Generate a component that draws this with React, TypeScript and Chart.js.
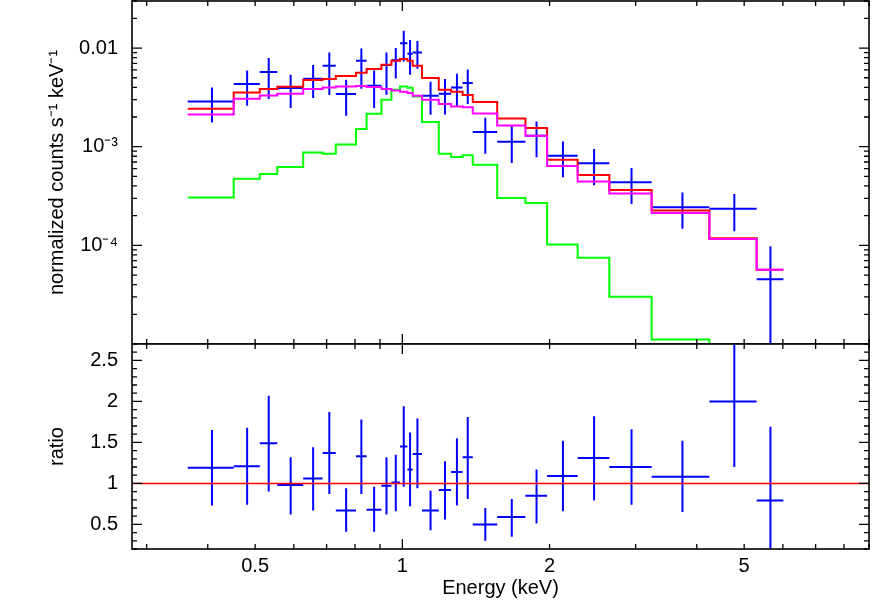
import React, { useEffect, useRef } from 'react';
import { Chart, registerables } from 'chart.js';

Chart.register(...registerables);

const FONT = "'Liberation Sans', Arial, Helvetica, sans-serif";

// Energy bin edges (keV)
const binEdges = [0.364, 0.452, 0.511, 0.555, 0.627, 0.687, 0.731, 0.804, 0.845, 0.906, 0.950, 0.989, 1.024, 1.050, 1.097, 1.187, 1.258, 1.328, 1.393, 1.563, 1.785, 1.977, 2.283, 2.650, 3.234, 4.244, 5.303, 6.013];

// Data (normalized counts s^-1 keV^-1)
const dataRate = [2.88e-3, 4.32e-3, 5.71e-3, 3.94e-3, 4.89e-3, 6.62e-3, 3.42e-3, 7.43e-3, 4.15e-3, 6.73e-3, 7.52e-3, 1.12e-2, 8.75e-3, 9.02e-3, 3.29e-3, 3.44e-3, 3.99e-3, 4.42e-3, 1.41e-3, 1.12e-3, 1.29e-3, 8.11e-4, 6.78e-4, 4.35e-4, 2.43e-4, 2.35e-4, 4.53e-5];
const dataRateHigh = [3.99e-3, 5.93e-3, 7.92e-3, 5.36e-3, 6.73e-3, 9.02e-3, 4.77e-3, 9.91e-3, 5.93e-3, 9.02e-3, 1.0e-2, 1.50e-2, 1.21e-2, 1.18e-2, 4.56e-3, 4.85e-3, 5.50e-3, 6.07e-3, 1.97e-3, 1.61e-3, 1.80e-3, 1.13e-3, 9.48e-4, 6.08e-4, 3.44e-4, 3.32e-4, 9.77e-5];
const dataRateLow = [1.76e-3, 2.60e-3, 3.04e-3, 2.47e-3, 3.11e-3, 3.34e-3, 2.06e-3, 3.87e-3, 2.47e-3, 3.37e-3, 4.92e-3, 7.31e-3, 5.36e-3, 6.17e-3, 2.11e-3, 2.12e-3, 2.56e-3, 2.71e-3, 8.49e-4, 6.84e-4, 7.83e-4, 4.89e-4, 4.06e-4, 2.62e-4, 1.47e-4, 1.39e-4, 0];

// Models
const modelTotal = [2.43e-3, 3.55e-3, 3.84e-3, 4.06e-3, 4.74e-3, 4.85e-3, 5.20e-3, 5.62e-3, 6.12e-3, 6.77e-3, 7.43e-3, 7.74e-3, 7.43e-3, 6.62e-3, 4.97e-3, 3.78e-3, 3.61e-3, 3.34e-3, 2.84e-3, 1.93e-3, 1.55e-3, 7.38e-4, 5.18e-4, 3.65e-4, 2.25e-4, 1.18e-4, 5.67e-5];
const modelComp1 = [2.12e-3, 3.06e-3, 3.31e-3, 3.44e-3, 3.84e-3, 3.99e-3, 4.08e-3, 4.12e-3, 4.03e-3, 3.84e-3, 3.72e-3, 3.61e-3, 3.50e-3, 3.29e-3, 2.99e-3, 2.71e-3, 2.56e-3, 2.51e-3, 2.17e-3, 1.64e-3, 1.29e-3, 6.39e-4, 4.45e-4, 3.36e-4, 2.13e-4, 1.16e-4, 5.67e-5];
const modelComp2 = [3.06e-4, 4.74e-4, 5.29e-4, 6.23e-4, 8.75e-4, 8.49e-4, 1.05e-3, 1.51e-3, 2.16e-3, 2.99e-3, 3.78e-3, 4.08e-3, 3.96e-3, 3.23e-3, 1.78e-3, 8.49e-4, 7.87e-4, 8.17e-4, 6.58e-4, 3.02e-4, 2.69e-4, 1.02e-4, 7.50e-5, 3.02e-5, 1.11e-5, 4.0e-6, 1.5e-6];

// Ratio panel
const ratio = [1.19, 1.21, 1.49, 0.98, 1.06, 1.37, 0.67, 1.33, 0.68, 0.97, 1.01, 1.45, 1.17, 1.36, 0.67, 0.92, 1.14, 1.32, 0.50, 0.59, 0.85, 1.09, 1.31, 1.20, 1.08, 2.00, 0.79];
const ratioHigh = [1.65, 1.68, 2.07, 1.32, 1.44, 1.87, 0.94, 1.78, 0.96, 1.32, 1.35, 1.94, 1.62, 1.79, 0.91, 1.27, 1.55, 1.81, 0.70, 0.81, 1.17, 1.52, 1.82, 1.66, 1.52, 2.79, 1.69];
const ratioLow = [0.73, 0.74, 0.90, 0.62, 0.67, 0.87, 0.41, 0.87, 0.41, 0.62, 0.66, 0.96, 0.72, 0.94, 0.43, 0.56, 0.73, 0.81, 0.30, 0.35, 0.51, 0.66, 0.79, 0.74, 0.65, 1.20, -0.11];
const unityValue = 1;

// Axes
const X_MIN = 0.28, X_MAX = 9;
const TOP_Y_MIN = 1e-5, TOP_Y_MAX = 0.03;
const RATIO_MIN = 0.2, RATIO_MAX = 2.7;
const xTickLabelValues = [0.5, 1, 2, 5];
const xTickLabelText = ['0.5', '1', '2', '5'];
const xMajorTicks = [1];
const xMinorTicks = [0.3, 0.4, 0.5, 0.6, 0.7, 0.8, 0.9, 2, 3, 4, 5, 6, 7, 8, 9];
const topYTickLabelValues = [1e-4, 1e-3, 1e-2];
const topYTickLabelText = ['10\u207B\u2074', '10\u207B\u00B3', '0.01'];
const topYMajorTicks = [1e-4, 1e-3, 1e-2];
const topYMinorTicks = [2e-5, 3e-5, 4e-5, 5e-5, 6e-5, 7e-5, 8e-5, 9e-5, 2e-4, 3e-4, 4e-4, 5e-4, 6e-4, 7e-4, 8e-4, 9e-4, 2e-3, 3e-3, 4e-3, 5e-3, 6e-3, 7e-3, 8e-3, 9e-3, 2e-2, 3e-2];
const ratioTickLabelValues = [0.5, 1, 1.5, 2, 2.5];
const ratioTickLabelText = ['0.5', '1', '1.5', '2', '2.5'];
const ratioMajorTicks = [0.5, 1, 1.5, 2, 2.5];
const ratioMinorTicks = [0.2, 0.3, 0.4, 0.6, 0.7, 0.8, 0.9, 1.1, 1.2, 1.3, 1.4, 1.6, 1.7, 1.8, 1.9, 2.1, 2.2, 2.3, 2.4, 2.6, 2.7];

function stepData(vals: number[]) {
  return binEdges.map((e, i) => ({ x: e, y: vals[Math.min(i, vals.length - 1)] }));
}

function labelFor(values: number[], texts: string[]) {
  return (v: any) => {
    const n = Number(v);
    for (let i = 0; i < values.length; i++) {
      if (Math.abs(n - values[i]) <= Math.abs(values[i]) * 1e-6) return texts[i];
    }
    return '';
  };
}

function fixV(width: number) {
  return (s: any) => { s.width = width; s.paddingTop = 0; s.paddingBottom = 0; s.paddingLeft = 0; s.paddingRight = 0; };
}
function fixH(height: number) {
  return (s: any) => { s.height = height; s.paddingTop = 0; s.paddingBottom = 0; s.paddingLeft = 0; s.paddingRight = 0; };
}

function makePlugin(yMajor: number[], yMinor: number[], center: number[], hi: number[], lo: number[]) {
  return {
    id: 'spectrumDecor',
    beforeDatasetsDraw(chart: any) {
      const { ctx, chartArea: a, scales } = chart;
      const x = scales.x, y = scales.y;
      ctx.save();
      ctx.beginPath();
      ctx.rect(a.left, a.top, a.right - a.left, a.bottom - a.top);
      ctx.clip();
      ctx.strokeStyle = '#0000ff';
      ctx.lineWidth = 2;
      ctx.lineCap = 'butt';
      for (let i = 0; i < center.length; i++) {
        const e0 = binEdges[i], e1 = binEdges[i + 1];
        const xl = x.getPixelForValue(e0);
        const xr = x.getPixelForValue(e1);
        const xc = x.getPixelForValue((e0 + e1) / 2);
        const yc = y.getPixelForValue(center[i]);
        const yh = y.getPixelForValue(hi[i]);
        const yl = lo[i] > 0 || y.type !== 'logarithmic' ? y.getPixelForValue(lo[i]) : a.bottom + 5;
        ctx.beginPath();
        ctx.moveTo(xl, yc);
        ctx.lineTo(xr, yc);
        ctx.moveTo(xc, yh);
        ctx.lineTo(xc, yl);
        ctx.stroke();
      }
      ctx.restore();
    },
    afterDraw(chart: any) {
      const { ctx, chartArea: a, scales } = chart;
      const x = scales.x, y = scales.y;
      ctx.save();
      ctx.strokeStyle = '#000';
      ctx.lineWidth = 1.3;
      ctx.beginPath();
      const xt = [...xMajorTicks.map(v => [v, 10]), ...xMinorTicks.map(v => [v, 5])];
      for (const [v, len] of xt) {
        const px = x.getPixelForValue(v);
        if (px < a.left || px > a.right) continue;
        ctx.moveTo(px, a.top);
        ctx.lineTo(px, a.top + len);
        ctx.moveTo(px, a.bottom);
        ctx.lineTo(px, a.bottom - len);
      }
      const yt = [...yMajor.map(v => [v, 10]), ...yMinor.map(v => [v, 5])];
      for (const [v, len] of yt) {
        const py = y.getPixelForValue(v);
        if (py < a.top - 0.5 || py > a.bottom + 0.5) continue;
        ctx.moveTo(a.left, py);
        ctx.lineTo(a.left + len, py);
        ctx.moveTo(a.right, py);
        ctx.lineTo(a.right - len, py);
      }
      ctx.stroke();
      ctx.lineWidth = 1.6;
      ctx.strokeRect(a.left, a.top, a.right - a.left, a.bottom - a.top);
      ctx.restore();
    },
  };
}

export default function App() {
  const topRef = useRef<HTMLCanvasElement>(null);
  const botRef = useRef<HTMLCanvasElement>(null);

  useEffect(() => {
    const tickFont = { family: FONT, size: 20 };
    const titleFont = { family: FONT, size: 20, lineHeight: 1.2 };

    const top = new Chart(topRef.current as HTMLCanvasElement, {
      type: 'line',
      data: {
        datasets: [
          { label: 'component 1', data: stepData(modelComp1), borderColor: '#ff00ff', borderWidth: 2, stepped: 'before', pointRadius: 0, fill: false, borderJoinStyle: 'miter' },
          { label: 'total model', data: stepData(modelTotal), borderColor: '#ff0000', borderWidth: 2, stepped: 'before', pointRadius: 0, fill: false, borderJoinStyle: 'miter' },
          { label: 'component 2', data: stepData(modelComp2), borderColor: '#00ff00', borderWidth: 2, stepped: 'before', pointRadius: 0, fill: false, borderJoinStyle: 'miter' },
        ],
      } as any,
      options: {
        animation: false,
        responsive: false,
        events: [],
        layout: { padding: { left: 0, right: 3, top: 1, bottom: 0 } },
        plugins: { legend: { display: false }, tooltip: { enabled: false } },
        scales: {
          x: { type: 'logarithmic', min: X_MIN, max: X_MAX, display: false },
          y: {
            type: 'logarithmic', min: TOP_Y_MIN, max: TOP_Y_MAX, position: 'left',
            grid: { display: false, drawTicks: false },
            border: { display: false },
            afterFit: fixV(132),
            afterBuildTicks: (s: any) => { s.ticks = topYTickLabelValues.map(v => ({ value: v })); },
            ticks: { callback: labelFor(topYTickLabelValues, topYTickLabelText), font: tickFont, color: '#000', padding: 14, autoSkip: false },
            title: { display: true, text: 'normalized counts s\u207B\u00B9 keV\u207B\u00B9', font: titleFont, color: '#000', padding: { top: 45, bottom: 0 } },
          },
        },
      } as any,
      plugins: [makePlugin(topYMajorTicks, topYMinorTicks, dataRate, dataRateHigh, dataRateLow)],
    });

    const bot = new Chart(botRef.current as HTMLCanvasElement, {
      type: 'line',
      data: {
        datasets: [
          { label: 'unity', data: [{ x: X_MIN, y: unityValue }, { x: X_MAX, y: unityValue }], borderColor: '#ff0000', borderWidth: 1.5, pointRadius: 0, fill: false },
        ],
      } as any,
      options: {
        animation: false,
        responsive: false,
        events: [],
        layout: { padding: { left: 0, right: 3, top: 1, bottom: 0 } },
        plugins: { legend: { display: false }, tooltip: { enabled: false } },
        scales: {
          x: {
            type: 'logarithmic', min: X_MIN, max: X_MAX, position: 'bottom',
            grid: { display: false, drawTicks: false },
            border: { display: false },
            afterFit: fixH(52),
            afterBuildTicks: (s: any) => { s.ticks = xTickLabelValues.map(v => ({ value: v })); },
            ticks: { callback: labelFor(xTickLabelValues, xTickLabelText), font: tickFont, color: '#000', padding: 5, autoSkip: false, maxRotation: 0 },
            title: { display: true, text: 'Energy (keV)', font: titleFont, color: '#000', padding: { top: 0, bottom: 1 } },
          },
          y: {
            type: 'linear', min: RATIO_MIN, max: RATIO_MAX, position: 'left',
            grid: { display: false, drawTicks: false },
            border: { display: false },
            afterFit: fixV(132),
            afterBuildTicks: (s: any) => { s.ticks = ratioTickLabelValues.map(v => ({ value: v })); },
            ticks: { callback: labelFor(ratioTickLabelValues, ratioTickLabelText), font: tickFont, color: '#000', padding: 14, autoSkip: false },
            title: { display: true, text: 'ratio', font: titleFont, color: '#000', padding: { top: 45, bottom: 0 } },
          },
        },
      } as any,
      plugins: [makePlugin(ratioMajorTicks, ratioMinorTicks, ratio, ratioHigh, ratioLow)],
    });

    return () => {
      top.destroy();
      bot.destroy();
    };
  }, []);

  return (
    <div style={{ position: 'absolute', left: 0, top: 0, width: 872, height: 601, background: '#fff' }}>
      <canvas ref={topRef} width={872} height={344} style={{ position: 'absolute', left: 0, top: 0 }} />
      <canvas ref={botRef} width={872} height={258} style={{ position: 'absolute', left: 0, top: 343 }} />
    </div>
  );
}
